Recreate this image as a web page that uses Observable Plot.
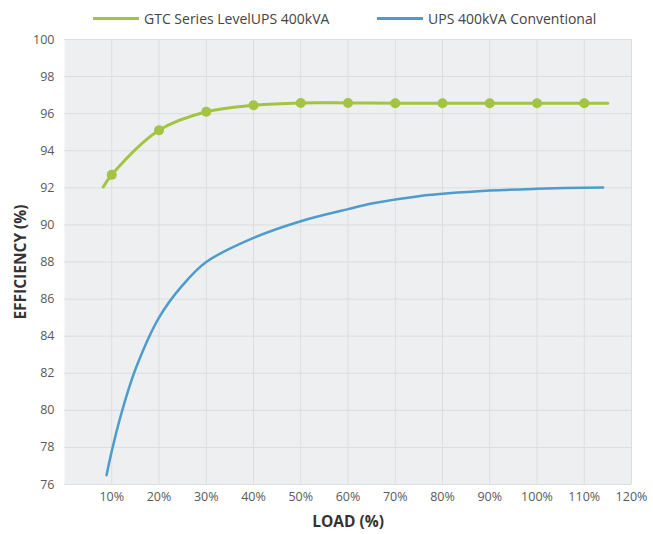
<!DOCTYPE html>
<html>
<head>
<meta charset="utf-8">
<script src="https://cdn.jsdelivr.net/npm/d3@7"></script>
<script src="https://cdn.jsdelivr.net/npm/@observablehq/plot@0.6"></script>
<style>
  body { margin: 0; background: #fff; font-family: "Open Sans", sans-serif; }
  #legend { position: relative; height: 30px; width: 653px; }
  .item { position: absolute; top: 9px; display: flex; align-items: center; font-size: 14px; color: #444; }
  .sw { display: inline-block; width: 46px; height: 3px; margin-right: 5px; }
  svg g[aria-label="x-axis label"] text, svg g[aria-label="y-axis label"] text { font-weight: bold; fill: #333; font-size: 15.5px; }
</style>
</head>
<body>
<div id="legend"></div>
<div id="chart"></div>
<script>
const seriesNames = ["GTC Series LevelUPS 400kVA", "UPS 400kVA Conventional"];
const colors = ["#a3c442", "#4d9ccb"];

// GTC series curve
const gtcLoad = [8.2, 10, 20, 30, 40, 50, 60, 70, 80, 90, 100, 110, 115];
const gtcEff  = [92.05, 92.7, 95.1, 96.1, 96.45, 96.58, 96.58, 96.56, 96.56, 96.56, 96.56, 96.56, 96.56];
// GTC markers
const markerLoad = [10, 20, 30, 40, 50, 60, 70, 80, 90, 100, 110];
const markerEff  = [92.7, 95.1, 96.1, 96.45, 96.58, 96.58, 96.56, 96.56, 96.56, 96.56, 96.56];

// Conventional UPS curve
const convLoad = [8.9, 10, 12, 15, 20, 25, 30, 40, 50, 60, 65, 75, 90, 100, 114];
const convEff  = [76.5, 77.8, 79.8, 82.2, 85.0, 86.75, 88.0, 89.3, 90.2, 90.85, 91.15, 91.55, 91.85, 91.95, 92.02];

const xTicks = [10, 20, 30, 40, 50, 60, 70, 80, 90, 100, 110, 120];
const yTicks = [76, 78, 80, 82, 84, 86, 88, 90, 92, 94, 96, 98, 100];

const gtc = gtcLoad.map((x, i) => ({x, y: gtcEff[i]}));
const markers = markerLoad.map((x, i) => ({x, y: markerEff[i]}));
const conv = convLoad.map((x, i) => ({x, y: convEff[i]}));

// legend
const legend = document.getElementById("legend");
const lefts = [93, 377];
seriesNames.forEach((n, i) => {
  const d = document.createElement("div");
  d.className = "item";
  d.style.left = lefts[i] + "px";
  d.innerHTML = `<span class="sw" style="background:${colors[i]}"></span><span>${n}</span>`;
  legend.appendChild(d);
});

const chart = Plot.plot({
  width: 653,
  height: 504,
  marginTop: 9,
  marginBottom: 50,
  marginLeft: 64,
  marginRight: 22,
  style: {fontFamily: "Open Sans, sans-serif", fontSize: "12.5px", color: "#5a5a5a", background: "transparent"},
  x: {domain: [0, 120]},
  y: {domain: [76, 100]},
  marks: [
    Plot.frame({fill: "#eeeff1", stroke: null}),
    Plot.gridX(xTicks, {stroke: "#dcdde0", strokeOpacity: 1, strokeWidth: 1}),
    Plot.gridY(yTicks, {stroke: "#dcdde0", strokeOpacity: 1, strokeWidth: 1}),
    Plot.axisX({ticks: xTicks, tickSize: 0, tickPadding: 8, tickFormat: d => d + "%", label: "LOAD (%)", labelAnchor: "center", labelArrow: "none", labelOffset: 42, fontSize: 12.5}),
    Plot.axisY({ticks: yTicks, tickSize: 0, tickPadding: 10, label: "EFFICIENCY (%)", labelAnchor: "center", labelOffset: 50, labelArrow: "none", fontSize: 12.5}),
    Plot.line(conv, {x: "x", y: "y", stroke: colors[1], strokeWidth: 2.5, curve: "catmull-rom"}),
    Plot.line(gtc, {x: "x", y: "y", stroke: colors[0], strokeWidth: 3, curve: "catmull-rom"}),
    Plot.dot(markers, {x: "x", y: "y", r: 5, fill: colors[0], stroke: null})
  ]
});
document.getElementById("chart").appendChild(chart);
</script>
</body>
</html>
